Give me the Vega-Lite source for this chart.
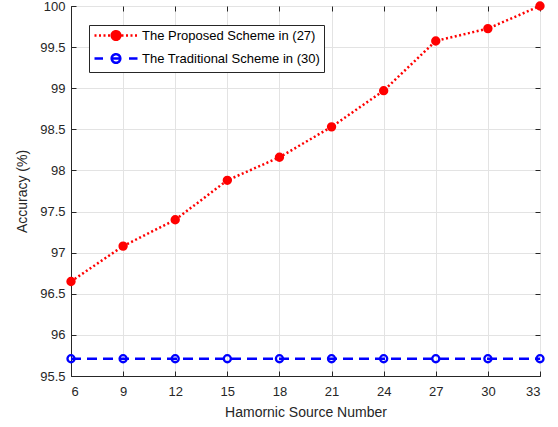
{
  "$schema": "https://vega.github.io/schema/vega-lite/v6.json",
  "width": 469,
  "height": 370,
  "autosize": {"type": "none"},
  "padding": {"left": 71, "top": 6, "right": 18, "bottom": 51},
  "background": "white",
  "config": {
    "font": "Liberation Sans",
    "view": {"stroke": "#262626", "strokeWidth": 1},
    "axis": {
      "domainColor": "#262626",
      "tickColor": "#262626",
      "labelColor": "#262626",
      "titleColor": "#262626",
      "gridColor": "#e3e3e3",
      "gridOpacity": 1,
      "labelFontSize": 13,
      "titleFontSize": 14,
      "titleFontWeight": "normal"
    }
  },
  "data": {
    "values": [
      {"n": 6, "series": "The Proposed Scheme in (27)", "acc": 96.65},
      {"n": 9, "series": "The Proposed Scheme in (27)", "acc": 97.08},
      {"n": 12, "series": "The Proposed Scheme in (27)", "acc": 97.40},
      {"n": 15, "series": "The Proposed Scheme in (27)", "acc": 97.88},
      {"n": 18, "series": "The Proposed Scheme in (27)", "acc": 98.16},
      {"n": 21, "series": "The Proposed Scheme in (27)", "acc": 98.53},
      {"n": 24, "series": "The Proposed Scheme in (27)", "acc": 98.97},
      {"n": 27, "series": "The Proposed Scheme in (27)", "acc": 99.575},
      {"n": 30, "series": "The Proposed Scheme in (27)", "acc": 99.725},
      {"n": 33, "series": "The Proposed Scheme in (27)", "acc": 100.0},
      {"n": 6, "series": "The Traditional Scheme in (30)", "acc": 95.71},
      {"n": 9, "series": "The Traditional Scheme in (30)", "acc": 95.71},
      {"n": 12, "series": "The Traditional Scheme in (30)", "acc": 95.71},
      {"n": 15, "series": "The Traditional Scheme in (30)", "acc": 95.71},
      {"n": 18, "series": "The Traditional Scheme in (30)", "acc": 95.71},
      {"n": 21, "series": "The Traditional Scheme in (30)", "acc": 95.71},
      {"n": 24, "series": "The Traditional Scheme in (30)", "acc": 95.71},
      {"n": 27, "series": "The Traditional Scheme in (30)", "acc": 95.71},
      {"n": 30, "series": "The Traditional Scheme in (30)", "acc": 95.71},
      {"n": 33, "series": "The Traditional Scheme in (30)", "acc": 95.71}
    ]
  },
  "layer": [
    {
      "transform": [{"filter": "datum.series == 'The Proposed Scheme in (27)'"}],
      "mark": {"type": "line", "strokeWidth": 2.5, "strokeDash": [2, 2.5]},
      "encoding": {
        "x": {
          "field": "n",
          "type": "quantitative",
          "scale": {"domain": [6, 33], "nice": false, "zero": false},
          "axis": {
            "orient": "bottom",
            "title": "Hamornic Source Number",
            "values": [6, 9, 12, 15, 18, 21, 24, 27, 30, 33],
            "tickSize": -5,
            "labelPadding": 14,
            "titlePadding": 7
          }
        },
        "y": {
          "field": "acc",
          "type": "quantitative",
          "scale": {"domain": [95.5, 100], "nice": false, "zero": false},
          "axis": {
            "orient": "left",
            "title": "Accuracy (%)",
            "values": [95.5, 96, 96.5, 97, 97.5, 98, 98.5, 99, 99.5, 100],
            "format": ".1~f",
            "tickSize": -5,
            "labelPadding": 11,
            "titlePadding": 10
          }
        },
        "stroke": {
          "field": "series",
          "type": "nominal",
          "scale": {
            "domain": ["The Proposed Scheme in (27)", "The Traditional Scheme in (30)"],
            "range": ["#ff0000", "#0000ff"]
          },
          "legend": {
            "title": null,
            "orient": "none",
            "legendX": 18,
            "legendY": 19,
            "fillColor": "white",
            "strokeColor": "#262626",
            "padding": 4,
            "cornerRadius": 0,
            "labelFontSize": 13,
            "labelColor": "#000000",
            "labelLimit": 400,
            "symbolSize": 100,
            "symbolOffset": 16.5,
            "labelOffset": 19.5,
            "symbolStrokeWidth": 2.5,
            "symbolDash": [1, 0],
            "rowPadding": 4,
            "encode": {
              "symbols": {
                "update": {
                  "shape": {"signal": "datum.value == 'The Proposed Scheme in (27)' ? 'M-4.3,0h0.4M-3.4,0h0.4M-2.5,0h0.4M-1.6,0h0.4M1.1,0h0.4M2,0h0.4M2.9,0h0.4M3.8,0h0.4M0.86,0A0.86,0.86,0,1,1,-0.86,0A0.86,0.86,0,1,1,0.86,0Z' : 'M-4.3,0H-2.6M2.6,0H4.3M-0.86,0H0.86M0.86,0A0.86,0.86,0,1,1,-0.86,0A0.86,0.86,0,1,1,0.86,0Z'"},
                  "fill": {"signal": "datum.value == 'The Proposed Scheme in (27)' ? '#ff0000' : 'transparent'"},
                  "strokeDash": {"value": [1, 0]},
                  "strokeWidth": {"value": 2.5}
                }
              }
            }
          }
        }
      }
    },
    {
      "transform": [{"filter": "datum.series == 'The Traditional Scheme in (30)'"}],
      "mark": {"type": "line", "strokeWidth": 2.5, "strokeDash": [10, 6]},
      "encoding": {
        "x": {"field": "n", "type": "quantitative", "axis": null},
        "y": {"field": "acc", "type": "quantitative", "axis": null},
        "stroke": {"field": "series", "type": "nominal", "legend": null}
      }
    },
    {
      "mark": {"type": "point", "shape": "circle", "size": 50, "strokeWidth": 2.3, "opacity": 1},
      "encoding": {
        "x": {
          "field": "n",
          "type": "quantitative",
          "axis": {"orient": "top", "title": null, "labels": false, "grid": false, "domain": false, "tickSize": -5, "values": [6, 9, 12, 15, 18, 21, 24, 27, 30, 33]}
        },
        "y": {
          "field": "acc",
          "type": "quantitative",
          "axis": {"orient": "right", "title": null, "labels": false, "grid": false, "domain": false, "tickSize": -5, "values": [95.5, 96, 96.5, 97, 97.5, 98, 98.5, 99, 99.5, 100]}
        },
        "stroke": {"field": "series", "type": "nominal", "legend": null},
        "fill": {
          "field": "series",
          "type": "nominal",
          "scale": {
            "domain": ["The Proposed Scheme in (27)", "The Traditional Scheme in (30)"],
            "range": ["#ff0000", "transparent"]
          },
          "legend": null
        }
      }
    }
  ],
  "resolve": {"axis": {"x": "independent", "y": "independent"}}
}
